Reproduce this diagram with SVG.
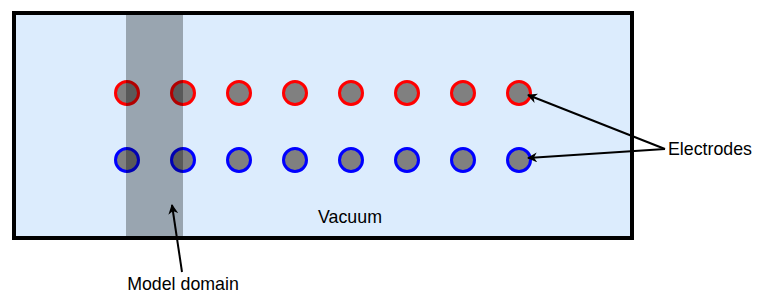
<svg xmlns="http://www.w3.org/2000/svg" width="757" height="301" viewBox="0 0 757 301">
<style>
.lbl{font-family:"Liberation Sans",Arial,sans-serif;font-size:17.8px;fill:#000}
.er{fill:#808080;stroke:#ff0000;stroke-width:3}
.eb{fill:#808080;stroke:#0000ff;stroke-width:3}
.conn{stroke:#000;stroke-width:2;fill:none;marker-end:url(#ah)}
</style>
<defs>
<marker id="ah" viewBox="0 0 10 10" refX="9" refY="5" markerWidth="10" markerHeight="10" markerUnits="userSpaceOnUse" orient="auto">
<path d="M0,0 L10,5 L0,10 L3,5 Z" fill="#000"/>
</marker>
</defs>
<g id="vacuum">
<rect x="14" y="13" width="618" height="225" fill="#dcecfd" stroke="#000" stroke-width="4"/>
<text class="lbl" x="350" y="223" text-anchor="middle">Vacuum</text>
</g>
<g id="electrodes-top">
<circle class="er" cx="127" cy="93" r="11.5"/>
<circle class="er" cx="183" cy="93" r="11.5"/>
<circle class="er" cx="239" cy="93" r="11.5"/>
<circle class="er" cx="295" cy="93" r="11.5"/>
<circle class="er" cx="351" cy="93" r="11.5"/>
<circle class="er" cx="407" cy="93" r="11.5"/>
<circle class="er" cx="463" cy="93" r="11.5"/>
<circle class="er" cx="519" cy="93" r="11.5"/>
</g>
<g id="electrodes-bottom">
<circle class="eb" cx="127" cy="160" r="11.5"/>
<circle class="eb" cx="183" cy="160" r="11.5"/>
<circle class="eb" cx="239" cy="160" r="11.5"/>
<circle class="eb" cx="295" cy="160" r="11.5"/>
<circle class="eb" cx="351" cy="160" r="11.5"/>
<circle class="eb" cx="407" cy="160" r="11.5"/>
<circle class="eb" cx="463" cy="160" r="11.5"/>
<circle class="eb" cx="519" cy="160" r="11.5"/>
</g>
<g id="model-domain">
<rect x="126" y="15" width="57" height="221" fill="#000" fill-opacity="0.3"/>
</g>
<g id="label-electrodes">
<text class="lbl" x="668" y="155">Electrodes</text>
</g>
<g id="label-model-domain">
<text class="lbl" x="183" y="290" text-anchor="middle">Model domain</text>
</g>
<g id="connectors">
<line class="conn" x1="665" y1="149" x2="528" y2="95"/>
<line class="conn" x1="665" y1="149" x2="528" y2="158"/>
<line class="conn" x1="182" y1="272" x2="172" y2="205"/>
</g>
</svg>
